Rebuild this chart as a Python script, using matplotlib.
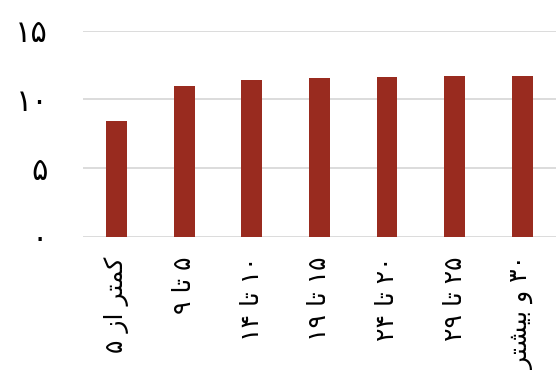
import matplotlib
matplotlib.use("Agg")
import matplotlib.pyplot as plt

# داده‌ها
categories = ["کمتر از ۵", "۵ تا ۹", "۱۰ تا ۱۴", "۱۵ تا ۱۹", "۲۰ تا ۲۴", "۲۵ تا ۲۹", "۳۰ و بیشتر"]
values = [8.43, 11.0, 11.39, 11.54, 11.61, 11.68, 11.68]
yticks = [0, 5, 10, 15]
ytick_labels = ["۰", "۵", "۱۰", "۱۵"]

# شکل‌های حروف: (isolated, final, initial, medial)
FORMS = {
    "ک": ("\uFB8E", "\uFB8F", "\uFB90", "\uFB91"),
    "م": ("\uFEE1", "\uFEE2", "\uFEE3", "\uFEE4"),
    "ت": ("\uFE95", "\uFE96", "\uFE97", "\uFE98"),
    "ب": ("\uFE8F", "\uFE90", "\uFE91", "\uFE92"),
    "ی": ("\uFBFC", "\uFBFD", "\uFBFE", "\uFBFF"),
    "ش": ("\uFEB5", "\uFEB6", "\uFEB7", "\uFEB8"),
    "ر": ("\uFEAD", "\uFEAE", None, None),
    "ز": ("\uFEAF", "\uFEB0", None, None),
    "ا": ("\uFE8D", "\uFE8E", None, None),
    "و": ("\uFEED", "\uFEEE", None, None),
}


def shape_word(word):
    out = []
    for i, ch in enumerate(word):
        if ch not in FORMS:
            out.append(ch)
            continue
        prev = word[i - 1] if i > 0 else None
        nxt = word[i + 1] if i + 1 < len(word) else None
        join_prev = prev in FORMS and FORMS[prev][2] is not None
        join_next = FORMS[ch][2] is not None and nxt in FORMS
        iso, fin, ini, med = FORMS[ch]
        if join_prev and join_next:
            out.append(med)
        elif join_prev:
            out.append(fin)
        elif join_next:
            out.append(ini)
        else:
            out.append(iso)
    return "".join(out)


def visual(text):
    tokens = []
    for w in text.split(" "):
        if any(c in FORMS for c in w):
            tokens.append(shape_word(w)[::-1])
        else:
            tokens.append(w)
    return " ".join(tokens[::-1])


plt.rcParams["font.family"] = ["DejaVu Sans"]

fig = plt.figure(figsize=(5.56, 3.89), dpi=100)
ax = fig.add_axes([0.149, 0.3915, 0.851, 0.5295])

x = range(len(categories))
ax.bar(x, values, width=0.31, color="#992B1F", zorder=3)

ax.set_xlim(-0.5, len(categories) - 0.5)
ax.set_ylim(0, 15)
ax.set_yticks(yticks)
ax.set_yticklabels(ytick_labels, fontsize=22)
ax.set_xticks(list(x))
ax.set_xticklabels([visual(c) for c in categories], rotation=90, fontsize=18)

ax.grid(axis="y", color="#D9D9D9", linewidth=1.3, zorder=0)
for s in ax.spines.values():
    s.set_visible(False)
ax.tick_params(axis="both", length=0)
ax.tick_params(axis="y", pad=25)
ax.tick_params(axis="x", pad=14)

fig.savefig("out.png", dpi=100)
